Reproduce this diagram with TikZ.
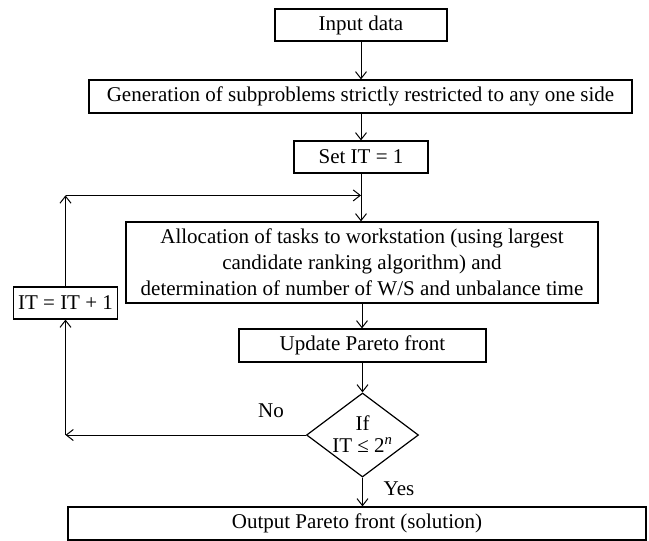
\documentclass[tikz,border=0pt]{standalone}
\usepackage{fontspec}
\setmainfont{Liberation Serif}
\usetikzlibrary{arrows.meta,shapes.geometric,calc}

\begin{document}
\begin{tikzpicture}[x=1pt,y=-1pt,
  font=\fontsize{21}{26}\selectfont,
  stepbox/.style={draw, line width=1.2pt, inner sep=0pt, align=center},
  decbox/.style={draw, diamond, line width=1.2pt, inner sep=0pt,
    minimum width=112pt, minimum height=84pt},
  flow/.style={line width=1pt, -{Straight Barb[length=7pt,width=11pt]}},
  plain/.style={line width=1pt},
  tag/.style={inner sep=0pt}]

\useasboundingbox (0,0) rectangle (649,541);

% process boxes
\node[stepbox, minimum width=172pt, minimum height=32pt] (inp) at (361,25) {Input data};
\node[stepbox, minimum width=543pt, minimum height=33pt] (gen) at (360.5,96.5)
  {Generation of subproblems strictly restricted to any one side};
\node[stepbox, minimum width=134pt, minimum height=32pt] (set) at (361,157) {Set IT = 1};
\node[stepbox, minimum width=472pt, minimum height=81pt] (alloc) at (362,262.5)
  {Allocation of tasks to workstation (using largest\\
   candidate ranking algorithm) and\\
   determination of number of W/S and unbalance time};
\node[stepbox, minimum width=104pt, minimum height=32pt] (inc) at (65.5,303) {IT = IT + 1};
\node[stepbox, minimum width=247pt, minimum height=33pt] (upd) at (362.5,345.5) {Update Pareto front};
\node[decbox] (dec) at (362.5,435) {};
\node[tag, align=center, font=\fontsize{21}{22}\selectfont] (dect) at (362.5,434)
  {If\\IT ≤ 2\textsuperscript{\itshape n}};
\node[stepbox, minimum width=578pt, minimum height=33pt] (out) at (357,523.5)
  {Output Pareto front (solution)};

% branch labels
\node[tag] (no) at (271,411) {No};
\node[tag] (yes) at (399,489) {Yes};

% loop corners
\coordinate (lowc) at (inc.south |- dec.west);
\coordinate (topc) at ($(inc.north)+(0,-91)$);
\coordinate (join) at (set.south |- topc);

% main flow
\draw[flow] (inp.south) -- (inp.south |- gen.north);
\draw[flow] (set.south |- gen.south) -- (set.north);
\draw[flow] (set.south) -- (set.south |- alloc.north);
\draw[flow] (alloc.south) -- (alloc.south |- upd.north);
\draw[flow] (upd.south) -- (upd.south |- dec.north);
\draw[flow] (dec.south) -- (dec.south |- out.north);

% iteration loop
\draw[flow] (dec.west) -- (lowc);
\draw[flow] (lowc) -- (inc.south);
\draw[flow] (inc.north) -- (topc);
\draw[flow] (topc) -- (join);
\end{tikzpicture}
\end{document}
